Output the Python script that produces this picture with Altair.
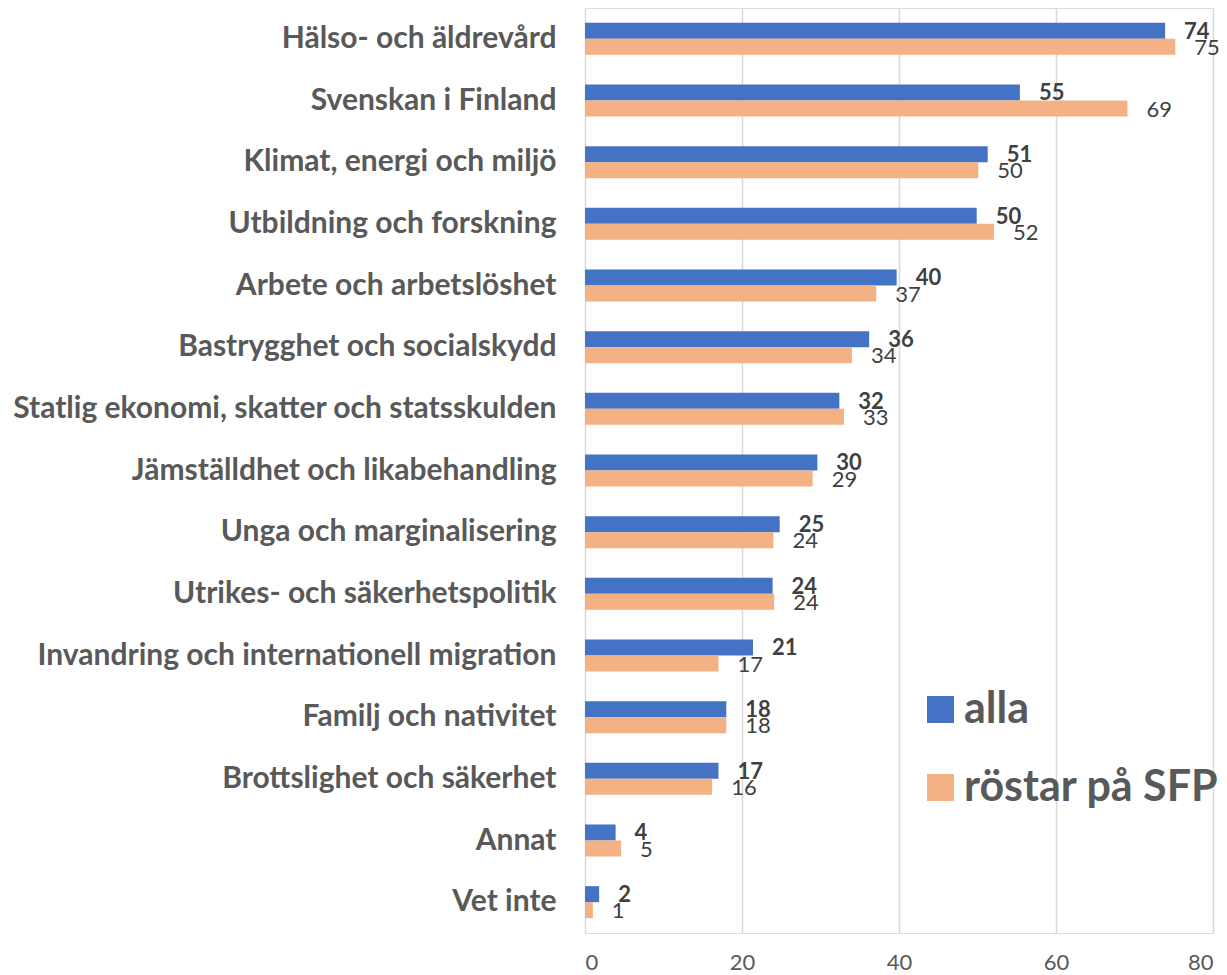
import altair as alt
import pandas as pd

categories = [
    "Hälso- och äldrevård",
    "Svenskan i Finland",
    "Klimat, energi och miljö",
    "Utbildning och forskning",
    "Arbete och arbetslöshet",
    "Bastrygghet och socialskydd",
    "Statlig ekonomi, skatter och statsskulden",
    "Jämställdhet och likabehandling",
    "Unga och marginalisering",
    "Utrikes- och säkerhetspolitik",
    "Invandring och internationell migration",
    "Familj och nativitet",
    "Brottslighet och säkerhet",
    "Annat",
    "Vet inte",
]
alla = [73.9, 55.4, 51.3, 49.9, 39.7, 36.2, 32.4, 29.6, 24.8, 23.9, 21.4, 18.0, 17.0, 3.9, 1.8]
sfp = [75.2, 69.1, 50.1, 52.1, 37.1, 34.0, 33.0, 29.0, 24.0, 24.1, 17.0, 18.0, 16.2, 4.6, 1.0]
series = ["alla", "röstar på SFP"]
x_ticks = [0, 20, 40, 60, 80]

rows = []
for c, a, s in zip(categories, alla, sfp):
    rows.append({"kategori": c, "serie": series[0], "värde": a})
    rows.append({"kategori": c, "serie": series[1], "värde": s})
df = pd.DataFrame(rows)

FONT = "Lato"
GRAY = "#595959"
DARK = "#404040"

y_enc = alt.Y(
    "kategori:N",
    sort=categories,
    scale=alt.Scale(paddingInner=0.48, paddingOuter=0.24),
    axis=alt.Axis(
        title=None,
        domain=False,
        ticks=False,
        labelFont=FONT,
        labelFontSize=30,
        labelFontWeight="bold",
        labelColor=GRAY,
        labelPadding=29,
        labelLimit=700,
        grid=False,
    ),
)
yoff = alt.YOffset("serie:N", scale=alt.Scale(domain=series, paddingInner=0, paddingOuter=0))
x_enc = alt.X(
    "värde:Q",
    scale=alt.Scale(domain=[0, 80], nice=False),
    axis=alt.Axis(
        title=None,
        values=x_ticks,
        domain=False,
        ticks=False,
        labelFont=FONT,
        labelFontSize=22,
        labelColor=GRAY,
        labelPadding=19,
        gridColor="#d9d9d9",
        gridWidth=1.5,
    ),
)

bars = alt.Chart(df).mark_bar().encode(
    x=x_enc,
    y=y_enc,
    yOffset=yoff,
    color=alt.Color(
        "serie:N",
        scale=alt.Scale(domain=series, range=["#4472C4", "#F4B183"]),
        legend=alt.Legend(
            title=None,
            orient="none",
            legendX=334,
            legendY=680,
            symbolType="square",
            symbolSize=729,
            symbolStrokeWidth=0,
            labelFont=FONT,
            labelFontSize=43,
            labelFontWeight="bold",
            labelColor=GRAY,
            labelOffset=2,
            labelLimit=400,
            rowPadding=34,
        ),
    ),
)

text_alla = alt.Chart(df).transform_filter(alt.datum.serie == series[0]).mark_text(
    align="left", baseline="middle", dx=19, dy=1, font=FONT, fontSize=22, fontWeight="bold", color=DARK
).encode(
    x="värde:Q",
    y=alt.Y("kategori:N", sort=categories),
    yOffset=yoff,
    text=alt.Text("värde:Q", format=".0f"),
)
text_sfp = alt.Chart(df).transform_filter(alt.datum.serie == series[1]).mark_text(
    align="left", baseline="middle", dx=19, dy=1, font=FONT, fontSize=22, color=DARK
).encode(
    x="värde:Q",
    y=alt.Y("kategori:N", sort=categories),
    yOffset=yoff,
    text=alt.Text("värde:Q", format=".0f"),
)

chart = (
    alt.layer(bars, text_alla, text_sfp)
    .properties(
        width=628,
        height=925,
        autosize=alt.AutoSizeParams(type="none"),
        padding={"left": 577, "top": 0, "right": 6, "bottom": 40},
    )
    .configure_view(stroke=None)
    .configure(background="white")
)

chart.save("out.html", embed_options={"renderer": "svg", "actions": False})
